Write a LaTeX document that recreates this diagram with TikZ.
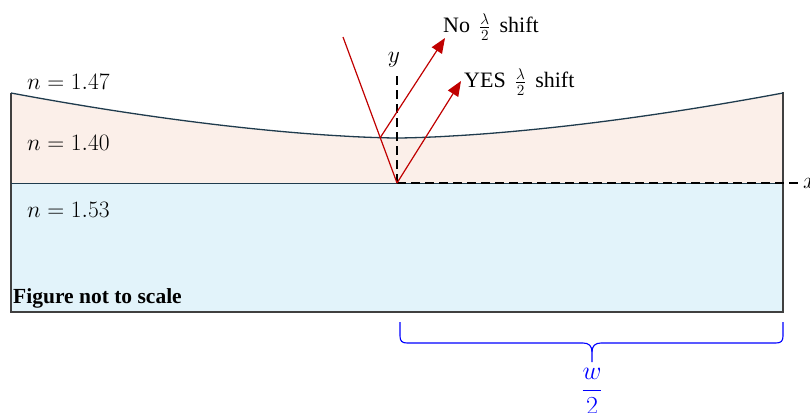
\documentclass[tikz,border=0pt]{standalone}
\usepackage{fix-cm}
\usepackage[no-math]{fontspec}
\setmainfont{Liberation Serif}
\usepackage{amssymb,amsmath}
\usepackage{tikz}
\usetikzlibrary{arrows.meta, calc, decorations.pathreplacing, positioning}

\definecolor{filmfill}{HTML}{FBEFE9}
\definecolor{subfill}{HTML}{E2F3FA}
\definecolor{surfcol}{HTML}{1F3B4D}
\definecolor{raycol}{HTML}{C00000}
\definecolor{framecol}{HTML}{404040}

\begin{document}
\begin{tikzpicture}[x=1pt, y=-1pt,
    lbl/.style={font=\fontsize{22}{26}\selectfont, inner sep=0pt},
    mlbl/.style={lbl, font=\fontsize{23.5}{28}\selectfont},
    axis/.style={black, line width=1.6pt, dash pattern=on 9pt off 5pt},
    ray/.style={raycol, line width=1.2pt},
    rayhead/.style={ray, -{Triangle[length=15pt, width=12pt]}}]
    \useasboundingbox (0,0) rectangle (810,412);

    % Layers
    \fill[subfill] (11,183) rectangle (783,312);
    \fill[filmfill] (11,183) -- (11,93)
        -- plot[domain=11:783, samples=80] (\x, {138-45*pow(max(abs(\x-397),0.01)/386,1.6)})
        -- (783,183) -- cycle;
    \draw[framecol, line width=1.2pt] (11,93) -- (11,312) -- (783,312) -- (783,92);
    \draw[surfcol, line width=0.8pt] (11,183) -- (783,183);
    \draw[surfcol, line width=1.3pt]
        plot[domain=11:783, samples=80] (\x, {138-45*pow(max(abs(\x-397),0.01)/386,1.6)});

    % Points of the rays
    \coordinate (O) at (397,183);
    \coordinate (P) at (380,138);
    \coordinate (S) at (343,37);
    \coordinate (tipNo) at (445,38);
    \coordinate (tipYes) at (461,81);
    \coordinate (yEnd) at (397,75);
    \coordinate (xEnd) at (800,183);

    % Axes
    \draw[axis] (O) -- (yEnd);
    \draw[axis] (O) -- (xEnd);
    \node[mlbl] (lblY) at (394,60) {$y$};
    \node[mlbl, anchor=west] (lblX) at (803,183) {$x$};

    % Rays
    \draw[ray] (S) -- (O);
    \draw[rayhead] (P) -- (tipNo);
    \draw[rayhead] (O) -- (tipYes);
    \node[lbl, anchor=west] (lblNo) at (443,27) {No \,$\frac{\lambda}{2}$\, shift};
    \node[lbl, anchor=west] (lblYes) at (464,82) {YES \,$\frac{\lambda}{2}$\, shift};

    % Refractive indices
    \node[mlbl, anchor=west] (lblTop) at (27,82) {$n = 1.47$};
    \node[mlbl, anchor=west] (lblFilm) at (27,143) {$n = 1.40$};
    \node[mlbl, anchor=west] (lblSub) at (27,210) {$n = 1.53$};
    \node[lbl, anchor=west, font=\fontsize{21.5}{25}\selectfont\bfseries] (lblNote) at (13,298) {Figure not to scale};

    % Half width brace
    \draw[blue, line width=1.1pt] (400,322) -- (400,336) .. controls (400,341) and (402,343) .. (407,343)
        -- (583,343) .. controls (589,343) and (592,346) .. (592,352) -- (592,362);
    \draw[blue, line width=1.1pt] (592,352) .. controls (592,346) and (595,343) .. (601,343)
        -- (776,343) .. controls (781,343) and (783,341) .. (783,336) -- (783,322);
    \node[lbl, blue, anchor=base, font=\fontsize{26}{30}\selectfont] (half) at (592,397) {$\dfrac{w}{2}$};
\end{tikzpicture}
\end{document}
